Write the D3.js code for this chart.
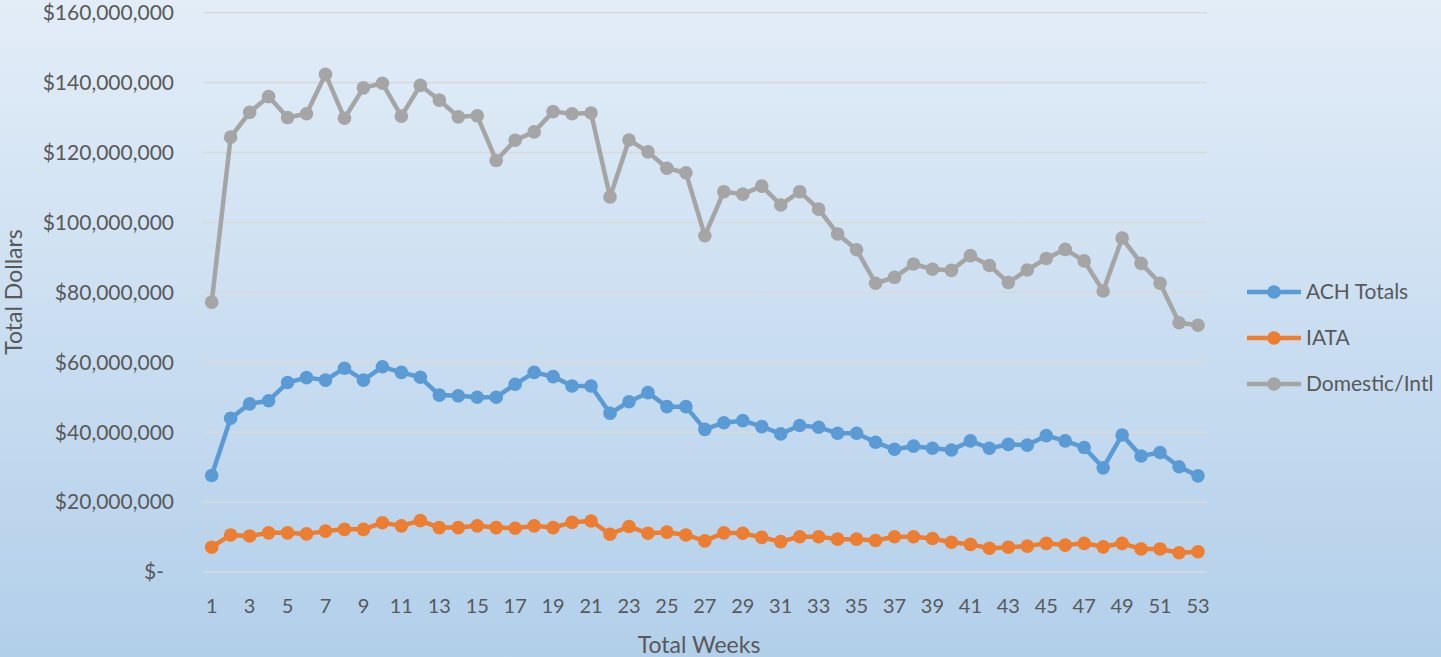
<!DOCTYPE html>
<html>
<head>
<meta charset="utf-8">
<script src="https://cdn.jsdelivr.net/npm/d3@7"></script>
<style>
  html, body { margin: 0; padding: 0; overflow: hidden; }
  svg text { font-family: Lato, "Open Sans", sans-serif; fill: #595959; }
</style>
</head>
<body>
<svg id="chart" width="1441" height="657"></svg>
<script>
// weekly totals, in millions of dollars
const weeks = d3.range(1, 54);
const achTotals = [27.6, 44.0, 48.1, 49.0, 54.2, 55.6, 54.9, 58.3, 54.9, 58.7,
  57.1, 55.7, 50.6, 50.4, 50.0, 50.0, 53.7, 57.1, 55.9, 53.2,
  53.2, 45.4, 48.7, 51.3, 47.3, 47.3, 40.8, 42.7, 43.3, 41.6,
  39.5, 41.9, 41.4, 39.7, 39.7, 37.1, 35.1, 36.0, 35.4, 34.9,
  37.5, 35.4, 36.5, 36.3, 39.0, 37.5, 35.6, 29.8, 39.2, 33.2,
  34.2, 30.1, 27.5];
const iata = [7.1, 10.6, 10.3, 11.2, 11.2, 10.9, 11.7, 12.2, 12.2, 14.1,
  13.2, 14.7, 12.7, 12.7, 13.2, 12.7, 12.5, 13.2, 12.7, 14.2,
  14.6, 10.8, 13.0, 11.1, 11.4, 10.6, 8.9, 11.2, 11.1, 9.9,
  8.7, 10.1, 10.1, 9.4, 9.4, 9.0, 10.1, 10.1, 9.6, 8.5,
  7.9, 6.8, 7.1, 7.4, 8.2, 7.7, 8.2, 7.2, 8.2, 6.6,
  6.6, 5.5, 5.8];
const domesticIntl = [77.2, 124.4, 131.5, 136.0, 130.0, 131.1, 142.4, 129.8, 138.5, 139.8,
  130.4, 139.2, 135.0, 130.2, 130.5, 117.7, 123.5, 125.9, 131.7, 131.1,
  131.3, 107.3, 123.6, 120.2, 115.5, 114.2, 96.2, 108.8, 108.1, 110.4,
  105.0, 108.8, 103.8, 96.7, 92.2, 82.6, 84.3, 88.1, 86.6, 86.3,
  90.5, 87.7, 82.8, 86.4, 89.7, 92.3, 89.0, 80.4, 95.5, 88.3,
  82.6, 71.3, 70.6];
const seriesNames = ["ACH Totals", "IATA", "Domestic/Intl"];
const seriesColors = ["#5b9bd5", "#ed7d31", "#a5a5a5"];
const yTicks = d3.range(0, 161, 20).map(v => v * 1e6);
const xTicks = d3.range(1, 54, 2);

const svg = d3.select("#chart");

// background gradient
const grad = svg.append("defs").append("linearGradient")
    .attr("id", "bg").attr("x1", 0).attr("y1", 0).attr("x2", 0).attr("y2", 1);
grad.append("stop").attr("offset", "0%").attr("stop-color", "#e3edf8");
grad.append("stop").attr("offset", "100%").attr("stop-color", "#b2cfea");
svg.append("rect").attr("width", 1441).attr("height", 657).attr("fill", "url(#bg)");

const x = d3.scaleLinear().domain([1, 53]).range([211.7, 1198]);
const y = d3.scaleLinear().domain([0, 160e6]).range([572, 12.7]);

// gridlines
svg.append("g").selectAll("line")
    .data(yTicks)
    .join("line")
    .attr("x1", 203).attr("x2", 1207)
    .attr("y1", d => y(d)).attr("y2", d => y(d))
    .attr("stroke", "#d9d9d9")
    .attr("stroke-width", 1.5);

// y tick labels
const fmt = d3.format(",");
svg.append("g").selectAll("text")
    .data(yTicks)
    .join("text")
    .attr("x", d => d === 0 ? 164 : 174)
    .attr("y", d => y(d))
    .attr("dy", "0.35em")
    .attr("text-anchor", "end")
    .style("font-size", "21px")
    .text(d => d === 0 ? "$-" : "$" + fmt(d));

// x tick labels
svg.append("g").selectAll("text")
    .data(xTicks)
    .join("text")
    .attr("x", d => x(d))
    .attr("y", 606)
    .attr("dy", "0.35em")
    .attr("text-anchor", "middle")
    .style("font-size", "20px")
    .text(d => d);

// axis titles
svg.append("text")
    .attr("x", 699).attr("y", 645)
    .attr("dy", "0.35em")
    .attr("text-anchor", "middle")
    .style("font-size", "23px")
    .text("Total Weeks");

svg.append("text")
    .attr("transform", "translate(14,292) rotate(-90)")
    .attr("dy", "0.35em")
    .attr("text-anchor", "middle")
    .style("font-size", "23px")
    .text("Total Dollars");

// series
const allSeries = [achTotals, iata, domesticIntl].map((vals, i) => ({
    name: seriesNames[i],
    color: seriesColors[i],
    points: vals.map((v, j) => ({ week: weeks[j], value: v * 1e6 }))
}));

const line = d3.line().x(d => x(d.week)).y(d => y(d.value));

const seriesG = svg.append("g").selectAll("g")
    .data(allSeries)
    .join("g");

seriesG.append("path")
    .attr("d", d => line(d.points))
    .attr("fill", "none")
    .attr("stroke", d => d.color)
    .attr("stroke-width", 4.5)
    .attr("stroke-linejoin", "round");

seriesG.each(function (s) {
    d3.select(this).selectAll("circle")
        .data(s.points)
        .join("circle")
        .attr("cx", d => x(d.week))
        .attr("cy", d => y(d.value))
        .attr("r", 6.8)
        .attr("fill", s.color);
});

// legend
const legend = svg.append("g").selectAll("g")
    .data(allSeries)
    .join("g")
    .attr("transform", (d, i) => `translate(0,${292 + i * 46})`);

legend.append("line")
    .attr("x1", 1247).attr("x2", 1301)
    .attr("stroke", d => d.color)
    .attr("stroke-width", 4.5);

legend.append("circle")
    .attr("cx", 1274).attr("r", 6.8)
    .attr("fill", d => d.color);

legend.append("text")
    .attr("x", 1306)
    .attr("dy", "0.35em")
    .style("font-size", "21px")
    .text(d => d.name);
</script>
</body>
</html>
